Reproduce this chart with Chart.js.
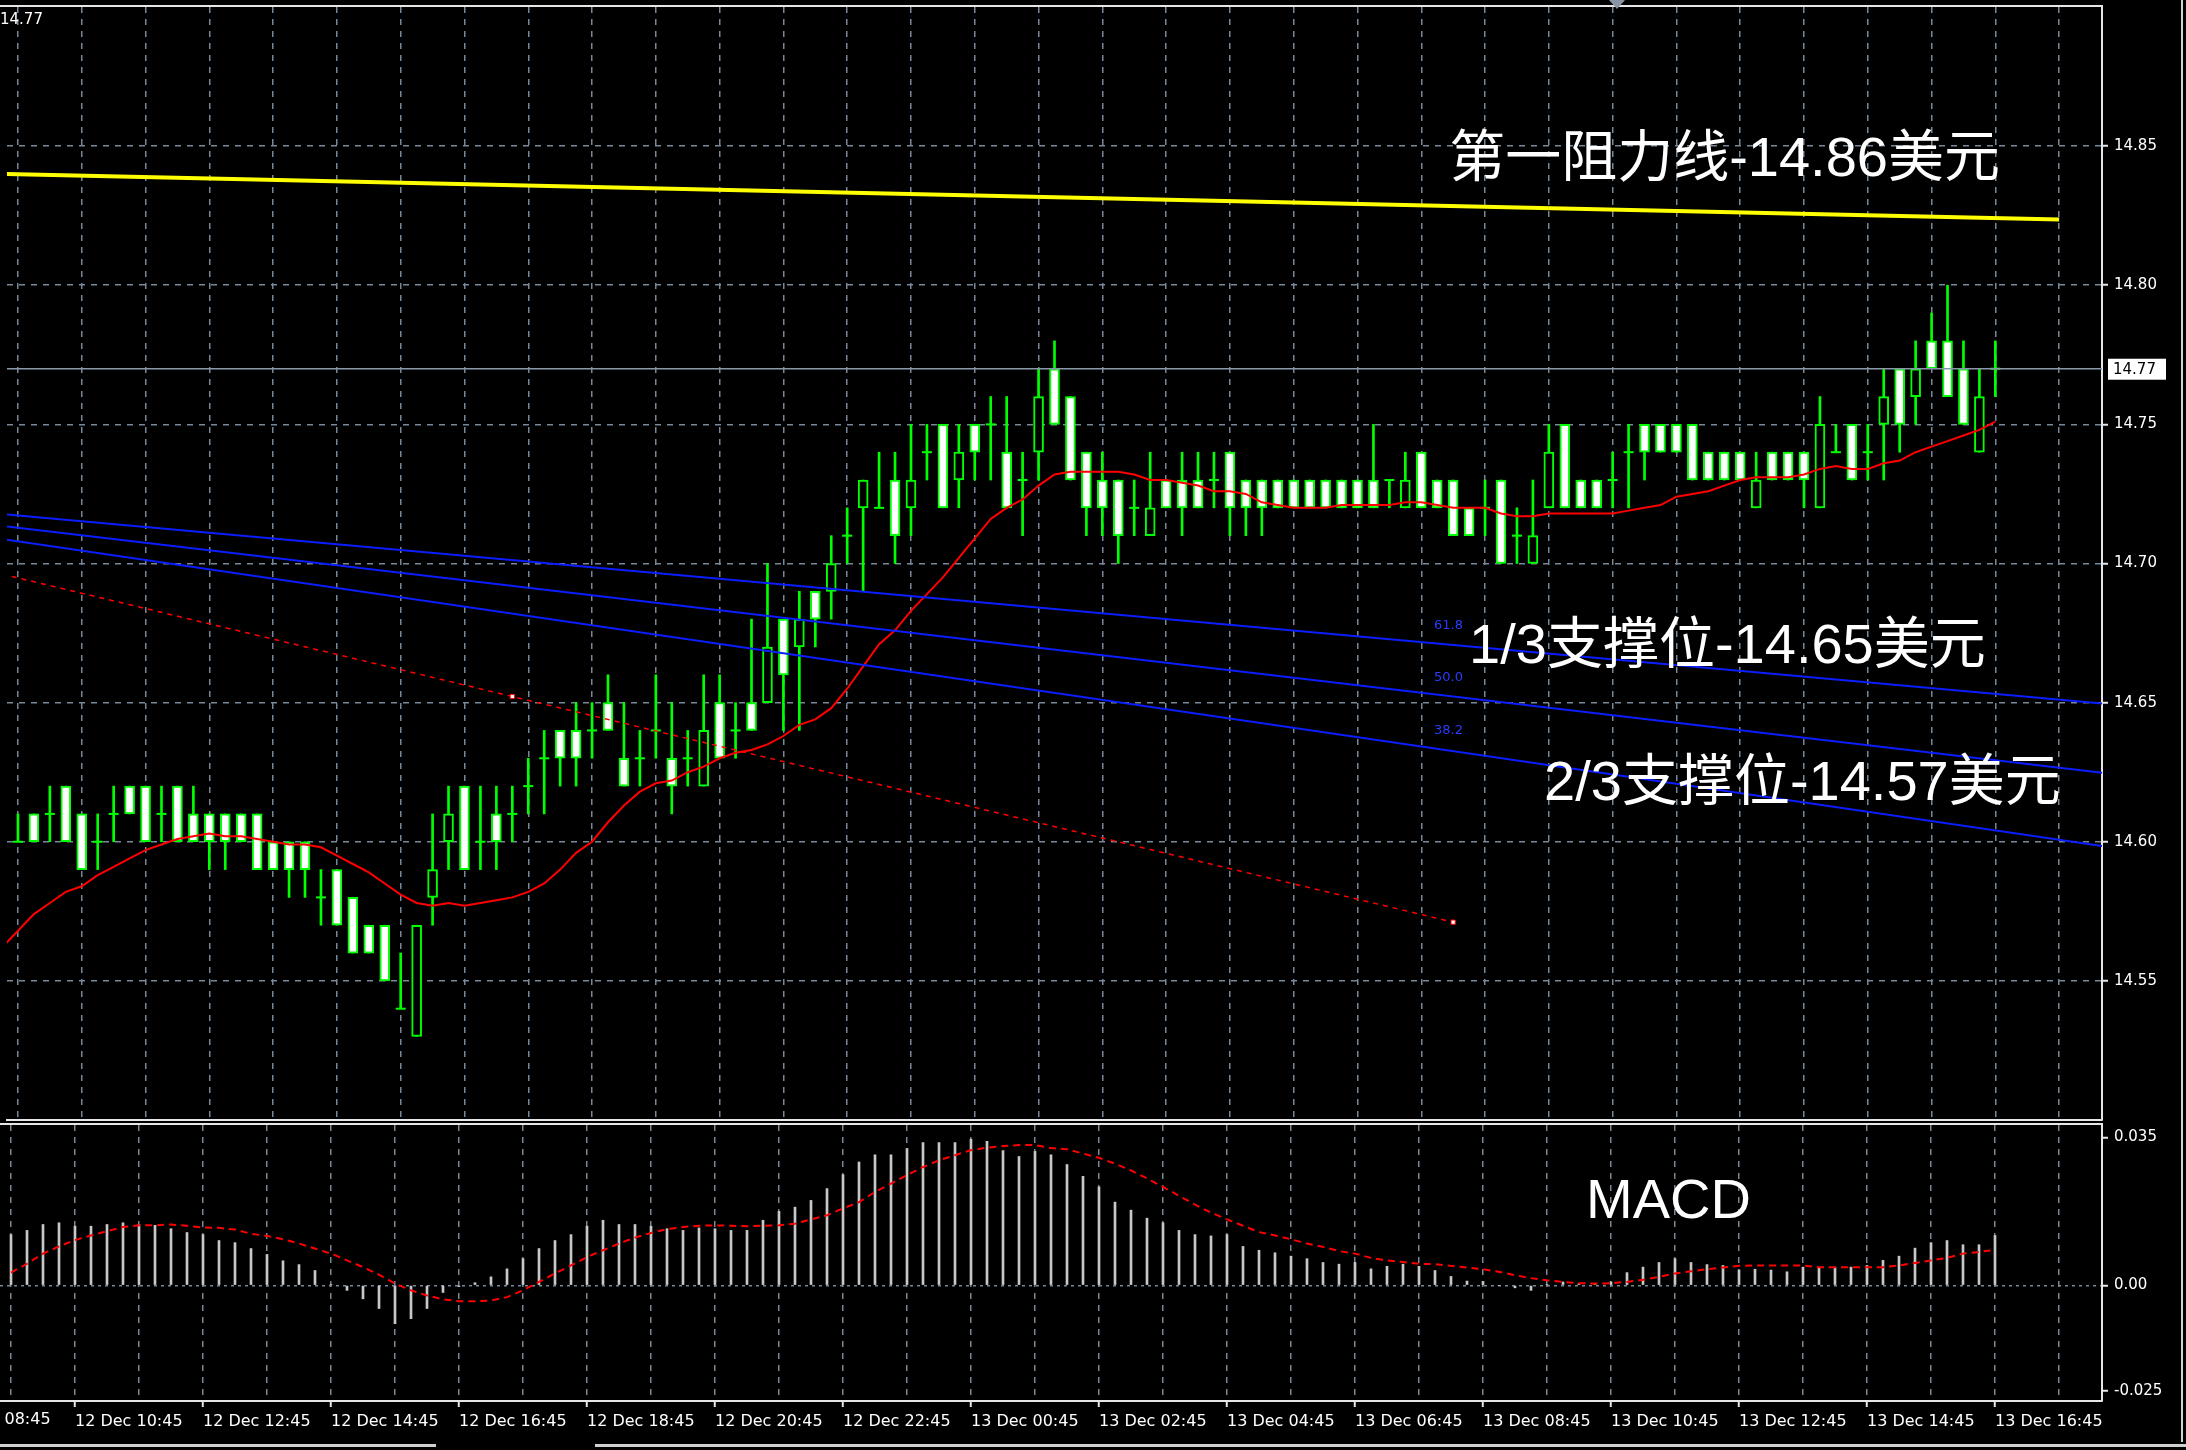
<!DOCTYPE html>
<html><head><meta charset="utf-8">
<script src="https://cdn.jsdelivr.net/npm/chart.js@4.4.1/dist/chart.umd.min.js"></script>
<style>
html,body{margin:0;padding:0;background:#000;overflow:hidden;}
#wrap{position:relative;width:2186px;height:1450px;background:#000;}
#main{position:absolute;left:0;top:0;}
#macd{position:absolute;left:0;top:1120px;}
.frame{position:absolute;background:#d0d0d0;}
</style></head><body>
<div id="wrap">
<canvas id="main" width="2186" height="1127"></canvas>
<canvas id="macd" width="2186" height="330"></canvas>
<div class="frame" style="left:2181px;top:0;width:2px;height:1442px"></div>
<div class="frame" style="left:0;top:1444px;width:436px;height:3px"></div>
<div class="frame" style="left:595px;top:1444px;width:1591px;height:3px"></div>
<div style="position:absolute;left:1609px;top:0;width:0;height:0;border-left:8px solid transparent;border-right:8px solid transparent;border-top:9px solid #8a96a3"></div>
</div>
<script>
// ---------------- DATA (15-minute bars, index 0 = 12 Dec 09:45) ----------------
const opens = [
14.60,14.61,14.61,14.62,14.61,14.60,14.61,14.62,14.62,14.61,
14.62,14.61,14.61,14.61,14.61,14.61,14.60,14.60,14.60,14.58,
14.59,14.58,14.57,14.57,14.54,14.53,14.58,14.60,14.62,14.60,
14.61,14.61,14.62,14.63,14.64,14.64,14.64,14.65,14.63,14.63,
14.64,14.63,14.63,14.62,14.65,14.64,14.65,14.65,14.68,14.67,
14.69,14.69,14.71,14.72,14.72,14.73,14.72,14.74,14.75,14.73,
14.75,14.75,14.74,14.73,14.74,14.77,14.76,14.74,14.73,14.73,
14.72,14.71,14.73,14.73,14.73,14.73,14.74,14.73,14.73,14.73,
14.73,14.73,14.73,14.73,14.73,14.73,14.73,14.72,14.74,14.73,
14.73,14.72,14.72,14.73,14.71,14.70,14.72,14.75,14.73,14.73,
14.73,14.74,14.75,14.75,14.75,14.75,14.74,14.74,14.74,14.72,
14.74,14.74,14.74,14.72,14.74,14.75,14.74,14.75,14.77,14.76,
14.78,14.78,14.77,14.74,14.77];
const highs = [
14.61,14.61,14.62,14.62,14.61,14.61,14.62,14.62,14.62,14.62,
14.62,14.62,14.61,14.61,14.61,14.61,14.60,14.60,14.60,14.59,
14.59,14.58,14.57,14.57,14.56,14.57,14.61,14.62,14.62,14.62,
14.62,14.62,14.63,14.64,14.64,14.65,14.65,14.66,14.65,14.64,
14.66,14.65,14.64,14.66,14.66,14.65,14.68,14.70,14.68,14.69,
14.69,14.71,14.72,14.73,14.74,14.74,14.75,14.75,14.75,14.75,
14.75,14.76,14.76,14.74,14.77,14.78,14.76,14.74,14.74,14.73,
14.73,14.74,14.73,14.74,14.74,14.74,14.74,14.73,14.73,14.73,
14.73,14.73,14.73,14.73,14.73,14.75,14.73,14.74,14.74,14.73,
14.73,14.72,14.73,14.73,14.72,14.73,14.75,14.75,14.73,14.73,
14.74,14.75,14.75,14.75,14.75,14.75,14.74,14.74,14.74,14.74,
14.74,14.74,14.74,14.76,14.75,14.75,14.75,14.77,14.77,14.78,
14.79,14.80,14.78,14.77,14.78];
const lows = [
14.60,14.60,14.60,14.60,14.59,14.59,14.60,14.61,14.60,14.60,
14.60,14.60,14.59,14.59,14.60,14.59,14.59,14.58,14.58,14.57,
14.57,14.56,14.56,14.55,14.54,14.53,14.57,14.59,14.59,14.59,
14.59,14.60,14.61,14.61,14.62,14.62,14.63,14.64,14.62,14.62,
14.63,14.61,14.62,14.62,14.63,14.63,14.64,14.65,14.64,14.64,
14.67,14.68,14.70,14.69,14.72,14.70,14.71,14.73,14.72,14.72,
14.73,14.73,14.72,14.71,14.73,14.75,14.73,14.71,14.71,14.70,
14.71,14.71,14.72,14.71,14.72,14.72,14.71,14.71,14.71,14.72,
14.72,14.72,14.72,14.72,14.72,14.72,14.72,14.72,14.72,14.72,
14.71,14.71,14.71,14.70,14.70,14.70,14.72,14.72,14.72,14.72,
14.72,14.72,14.73,14.74,14.74,14.73,14.73,14.73,14.73,14.72,
14.73,14.73,14.72,14.72,14.74,14.73,14.73,14.73,14.74,14.75,
14.77,14.76,14.75,14.74,14.76];
const closes = [
14.60,14.60,14.61,14.60,14.59,14.60,14.61,14.61,14.60,14.61,
14.60,14.60,14.60,14.60,14.60,14.59,14.59,14.59,14.59,14.58,
14.57,14.56,14.56,14.55,14.54,14.57,14.59,14.61,14.59,14.60,
14.60,14.61,14.62,14.63,14.63,14.63,14.64,14.64,14.62,14.63,
14.64,14.62,14.63,14.64,14.63,14.64,14.64,14.67,14.66,14.68,
14.68,14.70,14.71,14.73,14.72,14.71,14.73,14.74,14.72,14.74,
14.74,14.75,14.72,14.73,14.76,14.75,14.73,14.72,14.72,14.71,
14.72,14.72,14.72,14.72,14.72,14.73,14.72,14.72,14.72,14.72,
14.72,14.72,14.72,14.72,14.72,14.72,14.73,14.73,14.72,14.72,
14.71,14.71,14.72,14.70,14.71,14.71,14.74,14.72,14.72,14.72,
14.73,14.74,14.74,14.74,14.74,14.73,14.73,14.73,14.73,14.73,
14.73,14.73,14.73,14.75,14.74,14.73,14.74,14.76,14.75,14.77,
14.77,14.76,14.75,14.76,14.77];
// moving average, starting at bar -1
const maStartBar = -1;
const maValues = [14.562,
14.568,14.574,14.578,14.582,14.584,14.588,14.591,14.594,14.597,14.599,
14.601,14.602,14.603,14.602,14.602,14.601,14.600,14.599,14.599,14.598,
14.595,14.592,14.589,14.585,14.581,14.578,14.577,14.578,14.577,14.578,
14.579,14.580,14.582,14.585,14.590,14.596,14.600,14.607,14.613,14.618,
14.621,14.622,14.625,14.627,14.630,14.632,14.633,14.635,14.638,14.642,
14.644,14.648,14.655,14.663,14.671,14.676,14.683,14.689,14.695,14.702,
14.709,14.716,14.720,14.723,14.728,14.732,14.733,14.733,14.733,14.733,
14.732,14.730,14.730,14.729,14.728,14.726,14.726,14.725,14.722,14.721,
14.720,14.720,14.720,14.721,14.721,14.721,14.721,14.722,14.722,14.721,
14.720,14.720,14.720,14.718,14.717,14.717,14.718,14.718,14.718,14.718,
14.718,14.719,14.720,14.721,14.724,14.725,14.726,14.728,14.730,14.731,
14.731,14.731,14.732,14.734,14.735,14.734,14.734,14.736,14.737,14.740,
14.742,14.744,14.746,14.748,14.751];
const macdHist = [
0.0120,0.0130,0.0144,0.0148,0.0140,0.0140,0.0144,0.0148,0.0144,0.0142,
0.0134,0.0125,0.0120,0.0106,0.0101,0.0087,0.0073,0.0058,0.0049,0.0035,
0.0002,-0.0012,-0.0032,-0.0055,-0.0091,-0.0079,-0.0055,-0.0017,-0.0003,0.0006,
0.0020,0.0039,0.0063,0.0087,0.0106,0.0120,0.0140,0.0154,0.0144,0.0144,
0.0140,0.0134,0.0130,0.0136,0.0134,0.0130,0.0130,0.0154,0.0175,0.0185,
0.0201,0.0229,0.0262,0.0292,0.0309,0.0309,0.0324,0.0338,0.0338,0.0338,
0.0346,0.0341,0.0319,0.0305,0.0317,0.0309,0.0286,0.0258,0.0233,0.0197,
0.0178,0.0159,0.0148,0.0130,0.0120,0.0117,0.0120,0.0092,0.0083,0.0077,
0.0069,0.0063,0.0054,0.0050,0.0054,0.0039,0.0045,0.0050,0.0045,0.0035,
0.0021,0.0010,0.0009,0.0000,-0.0006,-0.0012,0.0002,0.0008,0.0004,0.0004,
0.0008,0.0030,0.0043,0.0054,0.0063,0.0054,0.0049,0.0047,0.0036,0.0038,
0.0036,0.0032,0.0043,0.0043,0.0043,0.0043,0.0047,0.0059,0.0069,0.0088,
0.0101,0.0106,0.0096,0.0096,0.0118];
const macdSignal = [
0.0030,0.0051,0.0075,0.0092,0.0107,0.0118,0.0128,0.0138,0.0142,0.0142,
0.0144,0.0141,0.0137,0.0136,0.0132,0.0122,0.0117,0.0109,0.0099,0.0087,
0.0075,0.0059,0.0043,0.0025,0.0004,-0.0012,-0.0024,-0.0033,-0.0038,-0.0038,
-0.0036,-0.0028,-0.0012,0.0008,0.0028,0.0047,0.0067,0.0083,0.0099,0.0113,
0.0124,0.0133,0.0138,0.0141,0.0142,0.0141,0.0140,0.0141,0.0142,0.0146,
0.0156,0.0166,0.0182,0.0197,0.0221,0.0241,0.0261,0.0280,0.0296,0.0308,
0.0320,0.0326,0.0330,0.0332,0.0332,0.0325,0.0322,0.0312,0.0302,0.0288,
0.0272,0.0253,0.0233,0.0212,0.0191,0.0172,0.0156,0.0141,0.0126,0.0118,
0.0109,0.0099,0.0091,0.0081,0.0075,0.0065,0.0059,0.0055,0.0051,0.0050,
0.0046,0.0042,0.0038,0.0032,0.0024,0.0017,0.0012,0.0008,0.0005,0.0004,
0.0005,0.0008,0.0013,0.0020,0.0028,0.0033,0.0038,0.0042,0.0046,0.0047,
0.0047,0.0047,0.0047,0.0043,0.0043,0.0043,0.0043,0.0043,0.0047,0.0053,
0.0059,0.0065,0.0075,0.0079,0.0084];
const priceTicks = [14.55,14.60,14.65,14.70,14.75,14.80,14.85];
const macdTicks = [-0.025,0,0.035];
const timeLabels = ['12 Dec 08:45','12 Dec 10:45','12 Dec 12:45','12 Dec 14:45','12 Dec 16:45','12 Dec 18:45','12 Dec 20:45','12 Dec 22:45','13 Dec 00:45','13 Dec 02:45','13 Dec 04:45','13 Dec 06:45','13 Dec 08:45','13 Dec 10:45','13 Dec 12:45','13 Dec 14:45','13 Dec 16:45'];
const timeLabelBars = [-4,4,12,20,28,36,44,52,60,68,76,84,92,100,108,116,124];
const currentPrice = 14.77;
const resistancePts = [[-1,14.8400],[128,14.8236]];
const fibo618Pts = [[-1,14.7178],[131,14.6495]];
const fibo500Pts = [[-1,14.7135],[131,14.6246]];
const fibo382Pts = [[-1,14.7088],[131,14.5982]];
const trendPts = [[-1,14.6962],[31,14.6522],[90,14.5711]];
const trendAnchors = [[31,14.6522],[90,14.5711]];
const annoTexts = ['第一阻力线-14.86美元','1/3支撑位-14.65美元','2/3支撑位-14.57美元'];
const annoBars = [89.75,91.0,95.7];
const annoPrices = [14.8447,14.6698,14.6207];
const fiboTexts = ['61.8','50.0','38.2'];
const fiboTextBar = 88.8;
const fiboTextPrices = [14.6777,14.6591,14.6400];
const macdTitle = 'MACD';
const macdTitleBar = 98.44, macdTitleValue = 0.0197;

// ---------------- view settings ----------------
const X_MIN = -0.6875, X_MAX = 130.6875;
const GRID = '#778899', LIME = '#00ff00', AXIS = '#e6e6e6';
const gridBars = []; for (let b = 0; b <= 128; b += 4) gridBars.push(b);
const LABEL_FONT = {family: '"DejaVu Sans", "Liberation Sans", sans-serif', size: 15};
const BIG_FONT = '56px "Liberation Sans", "Noto Sans CJK SC", sans-serif';
const noPad = s => { s.paddingTop = 0; s.paddingBottom = 0; s.paddingLeft = 0; s.paddingRight = 0; };

const pts = a => a.map(p => ({x: p[0], y: p[1]}));
const bars = opens.map((o, i) => i);
const wickData = bars.map(i => ({x: i, y: [lows[i], highs[i]]}));
const bodyData = bars.filter(i => opens[i] !== closes[i]).map(i => ({x: i, y: [opens[i], closes[i]]}));
const dojiData = bars.filter(i => opens[i] === closes[i]).map(i => ({x: i, y: opens[i]}));
const maData = maValues.map((v, k) => ({x: maStartBar + k, y: v}));

const topFrame = {
  id: 'topFrame',
  afterDraw(chart) {
    const {ctx, chartArea: a} = chart;
    ctx.save(); ctx.strokeStyle = AXIS; ctx.lineWidth = 2;
    ctx.beginPath(); ctx.moveTo(0, a.top - 1); ctx.lineTo(a.right + 1, a.top - 1); ctx.stroke();
    ctx.restore();
  }
};

const mainText = {
  id: 'mainText',
  afterDatasetsDraw(chart) {
    const {ctx, scales: {x, y}} = chart;
    ctx.save();
    ctx.fillStyle = '#ffffff'; ctx.font = BIG_FONT; ctx.textAlign = 'left'; ctx.textBaseline = 'middle';
    annoTexts.forEach((t, k) => ctx.fillText(t, x.getPixelForValue(annoBars[k]), y.getPixelForValue(annoPrices[k])));
    ctx.font = '13px "DejaVu Sans", sans-serif'; ctx.fillStyle = '#2a3cff';
    fiboTexts.forEach((t, k) => ctx.fillText(t, x.getPixelForValue(fiboTextBar), y.getPixelForValue(fiboTextPrices[k])));
    ctx.restore();
  },
  afterDraw(chart) {
    const {ctx, scales: {y}, chartArea: a} = chart;
    ctx.save();
    const py = y.getPixelForValue(currentPrice);
    ctx.fillStyle = '#ffffff';
    ctx.fillRect(a.right + 6, py - 10, 58, 21);
    ctx.fillStyle = '#000'; ctx.font = '15px "DejaVu Sans", sans-serif';
    ctx.textAlign = 'left'; ctx.textBaseline = 'middle';
    ctx.fillText(currentPrice.toFixed(2), a.right + 11, py + 1);
    ctx.fillStyle = '#ffffff';
    ctx.fillText(currentPrice.toFixed(2), 0, a.top + 13);
    ctx.restore();
  }
};

new Chart(document.getElementById('main'), {
  type: 'bar',
  data: {datasets: [
    {type: 'bar', data: wickData, backgroundColor: LIME, borderWidth: 0, barThickness: 2, grouped: false, order: 10},
    {type: 'bar', data: bodyData, grouped: false, order: 9, barThickness: 10, borderWidth: 2, borderSkipped: false,
      borderColor: LIME, backgroundColor: c => (c.raw && c.raw.y[1] < c.raw.y[0]) ? '#ffffff' : '#000000'},
    {type: 'line', data: dojiData, showLine: false, pointStyle: 'line', pointRadius: 5, pointBorderWidth: 2,
      pointBorderColor: LIME, borderColor: LIME, order: 8},
    {type: 'line', data: pts([[-1, currentPrice], [131, currentPrice]]), borderColor: '#8a99aa', borderWidth: 1.5, pointRadius: 0, order: 7},
    {type: 'line', data: maData, borderColor: '#ff0000', borderWidth: 2, pointRadius: 0, tension: 0, order: 5},
    {type: 'line', data: pts(resistancePts), borderColor: '#ffff00', borderWidth: 4, pointRadius: 0, order: 4},
    {type: 'line', data: pts(fibo618Pts), borderColor: '#0a1eff', borderWidth: 2, pointRadius: 0, order: 4},
    {type: 'line', data: pts(fibo500Pts), borderColor: '#0a1eff', borderWidth: 2, pointRadius: 0, order: 4},
    {type: 'line', data: pts(fibo382Pts), borderColor: '#0a1eff', borderWidth: 2, pointRadius: 0, order: 4},
    {type: 'line', data: pts(trendPts), borderColor: '#ff0000', borderWidth: 1.5, borderDash: [5, 5], pointRadius: 0, order: 4},
    {type: 'line', data: pts(trendAnchors), showLine: false, pointStyle: 'rect', pointRadius: 3,
      pointBackgroundColor: '#ffffff', pointBorderColor: '#ff0000', pointBorderWidth: 1, order: 1}
  ]},
  options: {
    responsive: false, animation: false, devicePixelRatio: 1, events: [],
    layout: {padding: {top: 4, bottom: 0, left: 0, right: 0}},
    plugins: {legend: {display: false}, tooltip: {enabled: false}},
    scales: {
      x: {type: 'linear', min: X_MIN, max: X_MAX, offset: false,
        afterBuildTicks: s => { s.ticks = gridBars.map(v => ({value: v})); },
        afterFit: s => { s.height = 0; noPad(s); },
        ticks: {display: false},
        grid: {color: GRID, lineWidth: 1.5, drawTicks: false, offset: false},
        border: {display: true, color: AXIS, width: 2, dash: [6, 6]}},
      y: {type: 'linear', position: 'right', min: 14.5, max: 14.9,
        afterBuildTicks: s => { s.ticks = priceTicks.map(v => ({value: v})); },
        afterFit: s => { s.width = 84; noPad(s); },
        ticks: {color: '#ffffff', font: LABEL_FONT, padding: 6, callback: v => Number(v).toFixed(2)},
        grid: {color: GRID, lineWidth: 1.5, tickColor: AXIS, tickLength: 6, tickWidth: 2},
        border: {display: true, color: AXIS, width: 2, dash: [6, 6]}}
    }
  },
  plugins: [topFrame, mainText]
});

const macdText = {
  id: 'macdText',
  afterDatasetsDraw(chart) {
    const {ctx, scales: {x, y}} = chart;
    ctx.save(); ctx.fillStyle = '#ffffff'; ctx.font = BIG_FONT; ctx.textAlign = 'left'; ctx.textBaseline = 'middle';
    ctx.fillText(macdTitle, x.getPixelForValue(macdTitleBar), y.getPixelForValue(macdTitleValue));
    ctx.restore();
  },
  afterDraw(chart) {
    const {ctx, scales: {x}, chartArea: a} = chart;
    ctx.save(); ctx.fillStyle = '#ffffff';
    ctx.font = '16px "DejaVu Sans", "Liberation Sans", sans-serif';
    ctx.textAlign = 'left'; ctx.textBaseline = 'top';
    timeLabelBars.forEach((b, k) => { if (b < X_MIN) ctx.fillText(timeLabels[k], x.getPixelForValue(b) - 4, a.bottom + 11); });
    ctx.restore();
  }
};

new Chart(document.getElementById('macd'), {
  type: 'bar',
  data: {datasets: [
    {type: 'bar', data: macdHist.map((v, i) => ({x: i, y: v})), backgroundColor: '#c8c8c8', barThickness: 2, grouped: false, order: 2},
    {type: 'line', data: macdSignal.map((v, i) => ({x: i, y: v})), borderColor: '#ff0000', borderWidth: 2, borderDash: [7, 5], pointRadius: 0, order: 1}
  ]},
  options: {
    responsive: false, animation: false, devicePixelRatio: 1, events: [],
    layout: {padding: {top: 5, bottom: 0, left: 0, right: 0}},
    plugins: {legend: {display: false}, tooltip: {enabled: false}},
    scales: {
      x: {type: 'linear', min: X_MIN, max: X_MAX, offset: false,
        afterBuildTicks: s => { s.ticks = gridBars.map(v => ({value: v})); },
        afterFit: s => { s.height = 49; noPad(s); },
        ticks: {color: '#ffffff', autoSkip: false, maxRotation: 0, minRotation: 0, align: 'start', padding: 5,
          font: {family: '"DejaVu Sans", "Liberation Sans", sans-serif', size: 16},
          callback: v => { const k = timeLabelBars.indexOf(v); return k >= 0 ? timeLabels[k] : ''; }},
        grid: {color: GRID, lineWidth: 1.5, offset: false, tickLength: 6, tickWidth: 2,
          tickColor: c => timeLabelBars.includes(c.tick && c.tick.value) ? AXIS : 'rgba(0,0,0,0)'},
        border: {display: true, color: AXIS, width: 2, dash: [6, 6]}},
      y: {type: 'linear', position: 'right', min: -0.0274, max: 0.03796,
        afterBuildTicks: s => { s.ticks = macdTicks.map(v => ({value: v})); },
        afterFit: s => { s.width = 84; noPad(s); },
        ticks: {color: '#ffffff', font: LABEL_FONT, padding: 6, callback: v => v === 0 ? '0.00' : Number(v).toFixed(3)},
        grid: {color: c => (c.tick && c.tick.value === 0) ? GRID : 'rgba(0,0,0,0)', lineWidth: 1.5, tickColor: AXIS, tickLength: 6, tickWidth: 2},
        border: {display: true, color: AXIS, width: 2, dash: [3, 4]}}
    }
  },
  plugins: [topFrame, macdText]
});
</script>
</body></html>
